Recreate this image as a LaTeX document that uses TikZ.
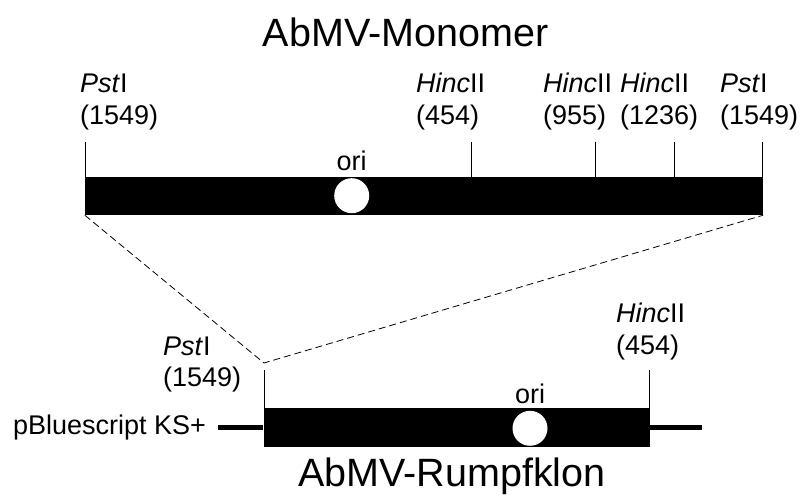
\documentclass[tikz,border=0pt]{standalone}
\usepackage{fontspec}
\setmainfont{Liberation Sans}
\begin{document}
\begin{tikzpicture}[x=1pt,y=-1pt,
  bar/.style={rectangle,fill=black,inner sep=0pt,draw=none},
  orimark/.style={circle,fill=white,inner sep=0pt,minimum size=35pt},
  tick/.style={draw=black,line width=0.9pt},
  backbone/.style={draw=black,line width=5.5pt},
  zoomline/.style={draw=black,line width=0.8pt,dash pattern=on 7pt off 4pt},
  lbl/.style={anchor=base west,inner sep=0pt,font=\fontsize{27}{31}\selectfont},
  title/.style={anchor=base west,inner sep=0pt,font=\fontsize{39.5}{45}\selectfont}]
\useasboundingbox (0,0) rectangle (801,502);

% ---- monomer ----
\node[title] (tmono) at (262.7,46.7) {AbMV-Monomer};
\node[bar,minimum width=678pt,minimum height=38pt] (mono) at (424,196) {};
\node[orimark] (ori1) at (351.7,195.7) {};
\node[lbl,anchor=base] (orit1) at (351.7,171) {ori};

\coordinate (m1) at (85,142);
\coordinate (m2) at (471.7,142);
\coordinate (m3) at (595.3,142);
\coordinate (m4) at (674,142);
\coordinate (m5) at (762.7,142);
\foreach \c in {m1,m2,m3,m4,m5}
  \draw[tick] (\c) -- (\c |- mono.north);

\node[lbl] (m1a) at (80,93) {\textit{Pst}I};
\node[lbl] (m1b) at (80,125) {(1549)};
\node[lbl] (m2a) at (416,93) {\textit{Hinc}II};
\node[lbl] (m2b) at (416,125) {(454)};
\node[lbl] (m3a) at (543,93) {\textit{Hinc}II};
\node[lbl] (m3b) at (543,125) {(955)};
\node[lbl] (m4a) at (620,93) {\textit{Hinc}II};
\node[lbl] (m4b) at (620,125) {(1236)};
\node[lbl] (m5a) at (720,93) {\textit{Pst}I};
\node[lbl] (m5b) at (720,125) {(1549)};

% ---- truncated clone ----
\node[bar,minimum width=386.5pt,minimum height=38.7pt] (rump) at (456.75,427.35) {};
\coordinate (vecL) at (218,427.35);
\coordinate (vecR) at (701.7,427.35);
\draw[backbone] (vecL) -- (rump.west);
\draw[backbone] (rump.east) -- (vecR);
\node[orimark] (ori2) at (530,428.3) {};
\node[lbl,anchor=base] (orit2) at (530,404) {ori};

\coordinate (r1) at (264,370);
\coordinate (r2) at (649.3,370);
\foreach \c in {r1,r2}
  \draw[tick] (\c) -- (\c |- rump.north);

\node[lbl] (r1a) at (163,356) {\textit{Pst}I};
\node[lbl] (r1b) at (163,387) {(1549)};
\node[lbl] (r2a) at (616,323) {\textit{Hinc}II};
\node[lbl] (r2b) at (616,355) {(454)};

\node[lbl] (vec) at (13,435) {pBluescript KS+};
\node[title] (trump) at (298,487) {AbMV-Rumpfklon};

% ---- dashed fan from monomer ends to the clone start ----
\coordinate (apex) at (264,363);
\draw[zoomline] (mono.south west) -- (apex) -- (mono.south east);
\end{tikzpicture}
\end{document}
